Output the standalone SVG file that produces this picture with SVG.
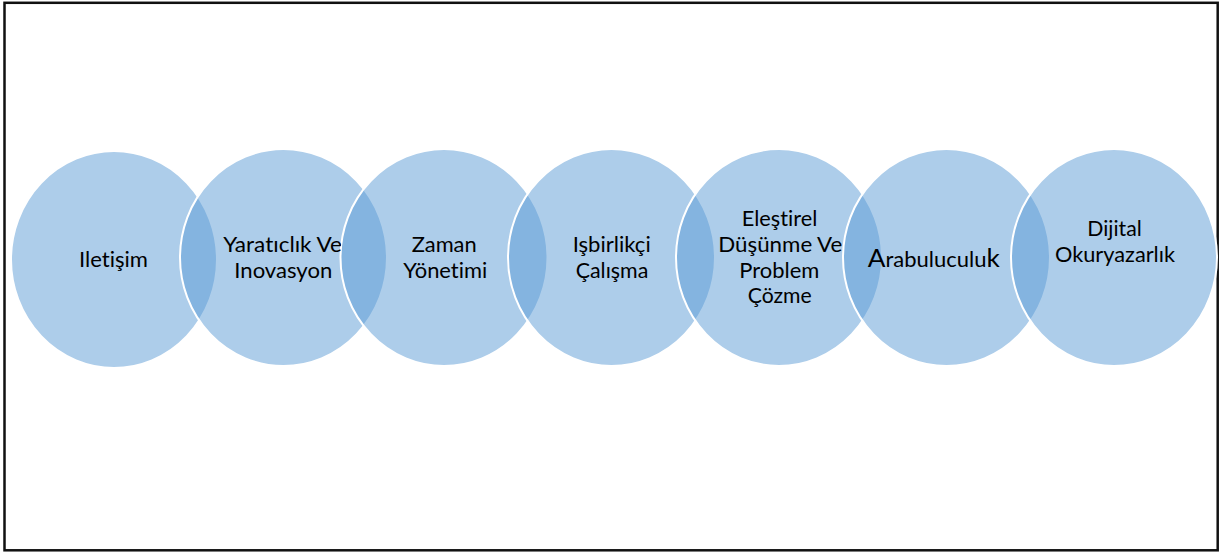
<svg xmlns="http://www.w3.org/2000/svg" width="1219" height="552" viewBox="0 0 1219 552">
<style>
.c{fill:#5B9BD5;fill-opacity:0.5;stroke:#FFFFFF;stroke-width:2}
.t{font-family:Lato,"Open Sans","Liberation Sans",sans-serif;font-size:21px;fill:#000000;font-variant-ligatures:none;font-feature-settings:"liga" 0}
</style>
<defs>
<clipPath id="cut3"><path clip-rule="evenodd" d="M0 0H1219V552H0Z M340.5 257.5a103.5 108.5 0 1 0 207 0a103.5 108.5 0 1 0 -207 0Z"/></clipPath>
<clipPath id="cut6"><path clip-rule="evenodd" d="M0 0H1219V552H0Z M843 257.5a103.5 108.5 0 1 0 207 0a103.5 108.5 0 1 0 -207 0Z"/></clipPath>
</defs>
<rect x="0" y="0" width="1219" height="552" fill="#FFFFFF"/>
<rect x="4.5" y="2.8" width="1213.2" height="547.5" fill="none" stroke="#111111" stroke-width="2.5"/>
<g id="node1">
<ellipse class="c" cx="114" cy="259.5" rx="103" ry="108.5"/>
<text class="t" x="79" y="266.7" textLength="69" lengthAdjust="spacingAndGlyphs">Iletişim</text>
</g>
<g id="node2">
<ellipse class="c" cx="283.5" cy="257.5" rx="103.5" ry="108.5"/>
</g>
<g id="node3">
<ellipse class="c" cx="444" cy="257.5" rx="103.5" ry="108.5"/>
</g>
<g id="node2-label" clip-path="url(#cut3)">
<text class="t" x="223.3" y="251.7" textLength="118.7" lengthAdjust="spacingAndGlyphs">Yaratıclık Ve</text>
<text class="t" x="234.3" y="277.7" textLength="98" lengthAdjust="spacingAndGlyphs">Inovasyon</text>
</g>
<g id="node3-label">
<text class="t" x="411.7" y="251.7" textLength="65" lengthAdjust="spacingAndGlyphs">Zaman</text>
<text class="t" x="403.3" y="277.7" textLength="84" lengthAdjust="spacingAndGlyphs">Yönetimi</text>
</g>
<g id="node4">
<ellipse class="c" cx="611.5" cy="257.5" rx="103.5" ry="108.5"/>
<text class="t" x="572.7" y="251.7" textLength="78" lengthAdjust="spacingAndGlyphs">Işbirlikçi</text>
<text class="t" x="575.7" y="277.7" textLength="72.6" lengthAdjust="spacingAndGlyphs">Çalışma</text>
</g>
<g id="node5">
<ellipse class="c" cx="779" cy="257.5" rx="103" ry="108.5"/>
</g>
<g id="node6">
<ellipse class="c" cx="946.5" cy="257.5" rx="103.5" ry="108.5"/>
</g>
<g id="node5-label" clip-path="url(#cut6)">
<text class="t" x="741.7" y="226" textLength="75.6" lengthAdjust="spacingAndGlyphs">Eleştirel</text>
<text class="t" x="718.3" y="252.3" textLength="124" lengthAdjust="spacingAndGlyphs">Düşünme Ve</text>
<text class="t" x="739.3" y="278" textLength="80" lengthAdjust="spacingAndGlyphs">Problem</text>
<text class="t" x="747.7" y="303.3" textLength="64" lengthAdjust="spacingAndGlyphs">Çözme</text>
</g>
<g id="node6-label">
<text class="t" x="867.7" y="266.7" textLength="132" lengthAdjust="spacingAndGlyphs"><tspan font-size="25">A</tspan>rabuluculu<tspan font-size="25">k</tspan></text>
</g>
<g id="node7">
<ellipse class="c" cx="1114" cy="257.5" rx="103" ry="108.5"/>
<text class="t" x="1087.3" y="236" textLength="54.4" lengthAdjust="spacingAndGlyphs">Dijital</text>
<text class="t" x="1055" y="261.7" textLength="120" lengthAdjust="spacingAndGlyphs">Okuryazarlık</text>
</g>
</svg>
